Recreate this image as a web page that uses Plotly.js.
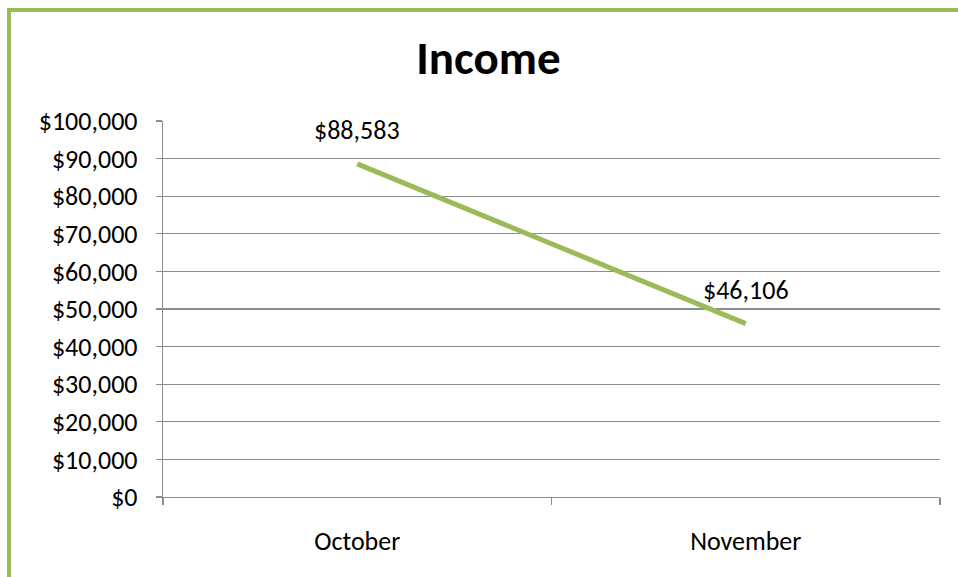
<!DOCTYPE html>
<html>
<head>
<meta charset="utf-8">
<script src="https://cdn.plot.ly/plotly-3.0.1.min.js"></script>
<style>
  html, body { margin: 0; padding: 0; background: #ffffff; }
  #wrap { position: relative; width: 958px; height: 577px; overflow: hidden; }
  #chart { position: absolute; left: 0; top: 0; width: 958px; height: 577px; }
  #frame { position: absolute; left: 7px; top: 8px; width: 980px; height: 600px;
           border-left: 4px solid #9BBB59; border-top: 4px solid #9BBB59; pointer-events: none; }
</style>
</head>
<body>
<div id="wrap">
  <div id="chart"></div>
  <div id="frame"></div>
</div>
<script>
const categories = ["October", "November"];
const incomeValues = [88583, 46106];
const yTickValues = [0, 10000, 20000, 30000, 40000, 50000, 60000, 70000, 80000, 90000, 100000];
const chartTitle = "Income";

const FONT = "Calibri, Carlito, Lato, sans-serif";
const fmt = v => "$" + v.toLocaleString("en-US");

const trace = {
  type: "scatter",
  mode: "lines",
  x: categories,
  y: incomeValues,
  line: { color: "#9BBB59", width: 5 },
  hoverinfo: "skip"
};

const annotations = categories.map((c, i) => ({
  x: c, y: incomeValues[i], xref: "x", yref: "y",
  text: fmt(incomeValues[i]), showarrow: false,
  yshift: 34, xanchor: "center", yanchor: "middle",
  font: { family: FONT, size: 26, color: "#000000" }
}));

const layout = {
  width: 958, height: 577,
  margin: { l: 163, r: 18, t: 121, b: 80, pad: 0 },
  paper_bgcolor: "#ffffff", plot_bgcolor: "#ffffff",
  showlegend: false,
  title: {
    text: "<b>" + chartTitle + "</b>",
    x: 488.5 / 958, xanchor: "center", xref: "container",
    y: 1 - 58 / 577, yanchor: "middle", yref: "container",
    font: { family: FONT, size: 47, color: "#000000" }
  },
  xaxis: {
    type: "category",
    range: [-0.5, 1.5],
    showgrid: false,
    showline: true, linecolor: "#8c8c8c", linewidth: 1.3,
    ticks: "outside", tickson: "boundaries", ticklen: 7, tickcolor: "#8c8c8c", tickwidth: 1.3,
    ticklabelstandoff: 20,
    tickfont: { family: FONT, size: 26, color: "#000000" },
    zeroline: false, fixedrange: true
  },
  yaxis: {
    range: [0, 100000],
    tickvals: yTickValues,
    ticktext: yTickValues.map(fmt),
    showgrid: true, gridcolor: "#8c8c8c", gridwidth: 1.3,
    showline: true, linecolor: "#8c8c8c", linewidth: 1.3,
    ticks: "outside", ticklen: 6, tickcolor: "#8c8c8c", tickwidth: 1.3,
    ticklabelstandoff: 13,
    tickfont: { family: FONT, size: 26, color: "#000000" },
    zeroline: false, fixedrange: true
  },
  annotations: annotations
};

Plotly.newPlot("chart", [trace], layout, { displayModeBar: false, staticPlot: true });
</script>
</body>
</html>
